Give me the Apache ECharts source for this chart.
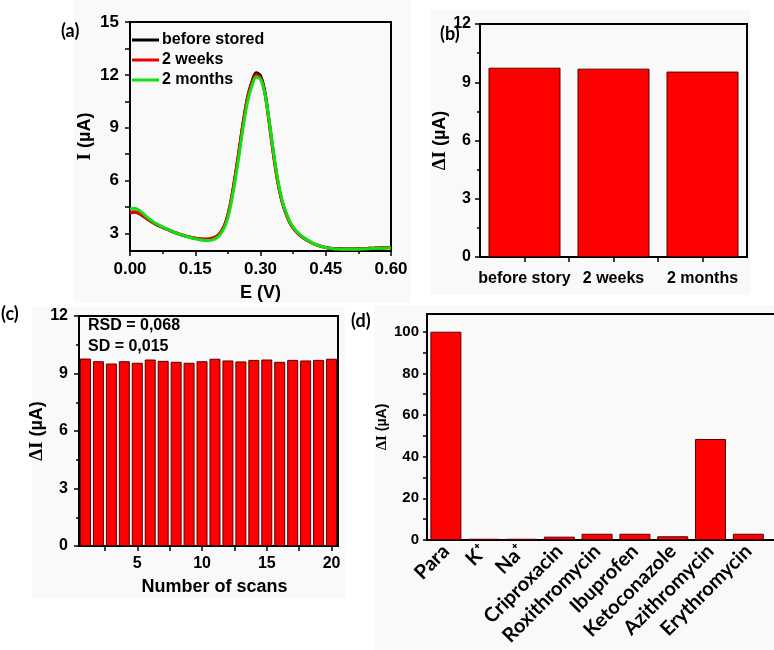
<!DOCTYPE html>
<html><head><meta charset="utf-8">
<script src="https://cdn.jsdelivr.net/npm/echarts@6/dist/echarts.min.js"></script>
<style>html,body{margin:0;padding:0;background:#fff}#c{width:774px;height:650px}</style>
</head><body><div id="c"></div>
<script>
// ---------- Panel (a): DPV curves ----------
const potentialE = [0.00,0.01,0.02,0.03,0.04,0.05,0.06,0.07,0.08,0.09,0.10,0.11,0.12,0.13,0.14,0.15,0.16,0.17,0.18,0.19,0.20,0.21,0.22,0.23,0.24,0.25,0.26,0.27,0.28,0.29,0.30,0.31,0.32,0.33,0.34,0.35,0.36,0.37,0.38,0.39,0.40,0.41,0.42,0.43,0.44,0.45,0.46,0.47,0.48,0.49,0.50,0.51,0.52,0.53,0.54,0.55,0.56,0.57,0.58,0.59,0.60];
const beforeStored = [4.16,4.21,4.14,3.99,3.81,3.65,3.51,3.39,3.28,3.18,3.08,2.99,2.90,2.83,2.77,2.72,2.68,2.66,2.67,2.73,2.82,3.10,3.62,4.55,5.95,7.55,9.25,10.70,11.60,12.12,11.95,11.05,9.35,7.50,5.90,4.78,4.05,3.50,3.17,2.92,2.73,2.58,2.44,2.34,2.26,2.20,2.16,2.14,2.13,2.12,2.12,2.12,2.12,2.13,2.14,2.15,2.16,2.17,2.18,2.19,2.20];
const twoWeeks = [4.17,4.22,4.15,4.00,3.82,3.66,3.52,3.40,3.29,3.19,3.09,3.00,2.91,2.84,2.78,2.73,2.69,2.67,2.68,2.74,2.85,3.12,3.65,4.60,6.00,7.60,9.30,10.70,11.55,12.02,11.85,10.95,9.25,7.40,5.85,4.75,4.02,3.48,3.15,2.90,2.72,2.57,2.43,2.33,2.25,2.19,2.15,2.13,2.12,2.11,2.11,2.11,2.12,2.13,2.14,2.15,2.16,2.17,2.18,2.19,2.20];
const twoMonths = [4.38,4.42,4.33,4.13,3.91,3.72,3.56,3.43,3.31,3.20,3.09,2.99,2.90,2.82,2.75,2.69,2.64,2.60,2.59,2.63,2.75,3.02,3.50,4.40,5.75,7.30,9.00,10.45,11.35,11.88,11.75,10.95,9.40,7.60,6.00,4.85,4.10,3.55,3.20,2.95,2.75,2.60,2.45,2.35,2.26,2.19,2.15,2.12,2.11,2.10,2.10,2.10,2.10,2.11,2.12,2.13,2.14,2.15,2.16,2.17,2.18];
const seriesNamesA = ['before stored','2 weeks','2 months'];
const yTicksA = [3, 6, 9, 12, 15];

// ---------- Panel (b): storage stability ----------
const storageCats = ['before story','2 weeks','2 months'];
const storageVals = [9.75, 9.70, 9.55];

// ---------- Panel (c): repeatability ----------
const scanNumbers = [1,2,3,4,5,6,7,8,9,10,11,12,13,14,15,16,17,18,19,20];
const scanVals = [9.78,9.64,9.52,9.64,9.56,9.73,9.66,9.61,9.56,9.64,9.77,9.68,9.63,9.71,9.73,9.61,9.71,9.68,9.71,9.77];
const xTicksC = [5, 10, 15, 20];

// ---------- Panel (d): selectivity ----------
const interferents = ['Para','K⁺','Na⁺','Criproxacin','Roxithromycin','Ibuprofen','Ketoconazole','Azithromycin','Erythromycin'];
const interfVals = [100, 0.6, 0.6, 1.6, 3.0, 3.0, 1.8, 48.5, 3.0];
const yTicksD = [0, 20, 40, 60, 80, 100];

const FONT = '"Liberation Sans", Arial, sans-serif';
const LBL = '"Lato", "Open Sans", sans-serif';
const axisLineStyle = {show:true, onZero:false, lineStyle:{color:'#000', width:2}};
const tickStyle = {color:'#000', width:1.5};
const RED = '#ff0000', BORDER = '#5a0000';
const PANEL_BG = '#f9f9f9';
const serifRich = size => ({s:{fontFamily:'"Liberation Serif", serif', fontWeight:'bold', fontSize:size}});

const chart = echarts.init(document.getElementById('c'), null, {renderer:'canvas'});

const option = {
  backgroundColor:'#ffffff',
  animation:false,
  grid:[
    {left:130, top:22, width:261, height:229, show:true, borderColor:'#000', borderWidth:2, backgroundColor:'transparent', outerBoundsMode:'none'},
    {left:480, top:24, width:267, height:233, show:true, borderColor:'#000', borderWidth:2, backgroundColor:'transparent', outerBoundsMode:'none'},
    {left:79, top:316, width:259, height:230, show:true, borderColor:'#000', borderWidth:2, backgroundColor:'transparent', outerBoundsMode:'none'},
    {left:427, top:314, width:378, height:226, show:true, borderColor:'#000', borderWidth:2, backgroundColor:'transparent', outerBoundsMode:'none'}
  ],
  legend:{
    data:seriesNamesA, orient:'vertical', left:127, top:25, itemWidth:27, itemHeight:3, itemGap:0,
    icon:'rect', textStyle:{fontFamily:FONT, fontWeight:'bold', fontSize:16, color:'#000', lineHeight:20, padding:[0,0,0,-2]}
  },
  xAxis:[
    {gridIndex:0, type:'value', min:0, max:0.6, interval:0.15,
     name:'E (V)', nameLocation:'middle', nameGap:33,
     nameTextStyle:{fontFamily:FONT, fontWeight:'bold', fontSize:18, color:'#000'},
     axisLine:axisLineStyle, axisTick:{show:true, length:5, lineStyle:tickStyle},
     minorTick:{show:true, splitNumber:2, length:3, lineStyle:tickStyle},
     axisLabel:{margin:10, fontFamily:FONT, fontWeight:'bold', fontSize:17, color:'#000', formatter:v=>v.toFixed(2)},
     splitLine:{show:false}},
    {gridIndex:1, type:'value', min:0.5, max:3.5,
     axisLine:axisLineStyle,
     axisTick:{show:true, length:5, lineStyle:tickStyle, customValues:[1,1.5,2,2.5,3]},
     axisLabel:{margin:14, fontFamily:FONT, fontWeight:'bold', fontSize:16, color:'#000', customValues:[1,2,3], formatter:v=>storageCats[Math.round(v)-1]},
     splitLine:{show:false}},
    {gridIndex:2, type:'value', min:0.5, max:20.5,
     name:'Number of scans', nameLocation:'middle', nameGap:32,
     nameTextStyle:{fontFamily:FONT, fontWeight:'bold', fontSize:18, color:'#000', padding:[0,0,0,12]},
     axisLine:axisLineStyle,
     axisTick:{show:true, length:5, lineStyle:tickStyle, customValues:[2.5,5,7.5,10,12.5,15,17.5,20]},
     axisLabel:{margin:10, fontFamily:FONT, fontWeight:'bold', fontSize:16, color:'#000', customValues:xTicksC},
     splitLine:{show:false}},
    {gridIndex:3, type:'value', min:-0.5, max:9.5,
     axisLine:axisLineStyle, axisTick:{show:false},
     axisLabel:{margin:8, rotate:45, fontFamily:LBL, fontWeight:'bold', fontSize:20, color:'#000',
       customValues:[0,1,2,3,4,5,6,7,8], formatter:v=>interferents[Math.round(v)]},
     splitLine:{show:false}}
  ],
  yAxis:[
    {gridIndex:0, type:'value', min:2, max:15,
     name:'{s|I} (µA)', nameLocation:'middle', nameGap:35,
     nameTextStyle:{fontFamily:FONT, fontWeight:'bold', fontSize:18, color:'#000', rich:serifRich(19)},
     axisLine:axisLineStyle,
     axisTick:{show:true, length:5, lineStyle:tickStyle, customValues:[3,4.5,6,7.5,9,10.5,12,13.5,15]},
     axisLabel:{margin:11, fontFamily:FONT, fontWeight:'bold', fontSize:17, color:'#000', customValues:yTicksA},
     splitLine:{show:false}},
    {gridIndex:1, type:'value', min:0, max:12, interval:3,
     name:'{s|ΔI} (µA)', nameLocation:'middle', nameGap:17,
     nameTextStyle:{fontFamily:FONT, fontWeight:'bold', fontSize:18, color:'#000', rich:serifRich(19)},
     axisLine:axisLineStyle, axisTick:{show:true, length:5, lineStyle:tickStyle},
     minorTick:{show:true, splitNumber:2, length:3, lineStyle:tickStyle},
     axisLabel:{margin:9, fontFamily:FONT, fontWeight:'bold', fontSize:16, color:'#000'},
     splitLine:{show:false}, minorSplitLine:{show:false}},
    {gridIndex:2, type:'value', min:0, max:12, interval:3,
     name:'{s|ΔI} (µA)', nameLocation:'middle', nameGap:19,
     nameTextStyle:{fontFamily:FONT, fontWeight:'bold', fontSize:18, color:'#000', rich:serifRich(19)},
     axisLine:axisLineStyle, axisTick:{show:true, length:5, lineStyle:tickStyle},
     minorTick:{show:true, splitNumber:2, length:3, lineStyle:tickStyle},
     axisLabel:{margin:11, fontFamily:FONT, fontWeight:'bold', fontSize:16, color:'#000'},
     splitLine:{show:false}, minorSplitLine:{show:false}},
    {gridIndex:3, type:'value', min:0, max:108.5,
     name:'{s|ΔI} (µA)', nameLocation:'middle', nameGap:34,
     nameTextStyle:{fontFamily:FONT, fontWeight:'bold', fontSize:14, color:'#000', rich:serifRich(15)},
     axisLine:axisLineStyle,
     axisTick:{show:true, length:4, lineStyle:tickStyle, customValues:[0,10,20,30,40,50,60,70,80,90,100]},
     axisLabel:{margin:8, fontFamily:FONT, fontWeight:'bold', fontSize:15, color:'#000', customValues:yTicksD},
     splitLine:{show:false}}
  ],
  series:[
    {name:seriesNamesA[0], type:'line', xAxisIndex:0, yAxisIndex:0, showSymbol:false, symbol:'none', smooth:0.3,
     lineStyle:{color:'#000', width:3}, itemStyle:{color:'#000'}, data:potentialE.map((e,i)=>[e, beforeStored[i]])},
    {name:seriesNamesA[1], type:'line', xAxisIndex:0, yAxisIndex:0, showSymbol:false, symbol:'none', smooth:0.3,
     lineStyle:{color:'#ee0000', width:3}, itemStyle:{color:'#ee0000'}, data:potentialE.map((e,i)=>[e, twoWeeks[i]])},
    {name:seriesNamesA[2], type:'line', xAxisIndex:0, yAxisIndex:0, showSymbol:false, symbol:'none', smooth:0.3,
     lineStyle:{color:'#11e011', width:3}, itemStyle:{color:'#11e011'}, data:potentialE.map((e,i)=>[e, twoMonths[i]])},
    {type:'bar', xAxisIndex:1, yAxisIndex:1, barWidth:72,
     itemStyle:{color:RED, borderColor:BORDER, borderWidth:1}, data:storageVals.map((v,i)=>[i+1, v])},
    {type:'bar', xAxisIndex:2, yAxisIndex:2, barWidth:11,
     itemStyle:{color:RED, borderColor:BORDER, borderWidth:1}, data:scanVals.map((v,i)=>[scanNumbers[i], v])},
    {type:'bar', xAxisIndex:3, yAxisIndex:3, barWidth:31,
     itemStyle:{color:RED, borderColor:BORDER, borderWidth:1}, data:interfVals.map((v,i)=>[i, v])}
  ],
  graphic:[
    {type:'rect', z:-100, silent:true, shape:{x:74, y:0, width:337, height:303}, style:{fill:PANEL_BG}},
    {type:'rect', z:-100, silent:true, shape:{x:431, y:10, width:320, height:285}, style:{fill:PANEL_BG}},
    {type:'rect', z:-100, silent:true, shape:{x:32, y:307, width:313, height:291}, style:{fill:PANEL_BG}},
    {type:'rect', z:-100, silent:true, shape:{x:374, y:305, width:400, height:345}, style:{fill:PANEL_BG}},
    {type:'text', left:61, top:22, style:{text:'(a)', font:'bold 18px '+LBL, fill:'#000'}},
    {type:'text', left:440, top:25, style:{text:'(b)', font:'bold 18px '+LBL, fill:'#000'}},
    {type:'text', left:1, top:305, style:{text:'(c)', font:'bold 18px '+LBL, fill:'#000'}},
    {type:'text', left:351, top:312, style:{text:'(d)', font:'bold 18px '+LBL, fill:'#000'}},
    {type:'text', left:88, top:318, style:{text:'RSD = 0,068', font:'bold 16px '+FONT, fill:'#000'}},
    {type:'text', left:88, top:339, style:{text:'SD = 0,015', font:'bold 16px '+FONT, fill:'#000'}}
  ]
};
chart.setOption(option);
</script></body></html>
